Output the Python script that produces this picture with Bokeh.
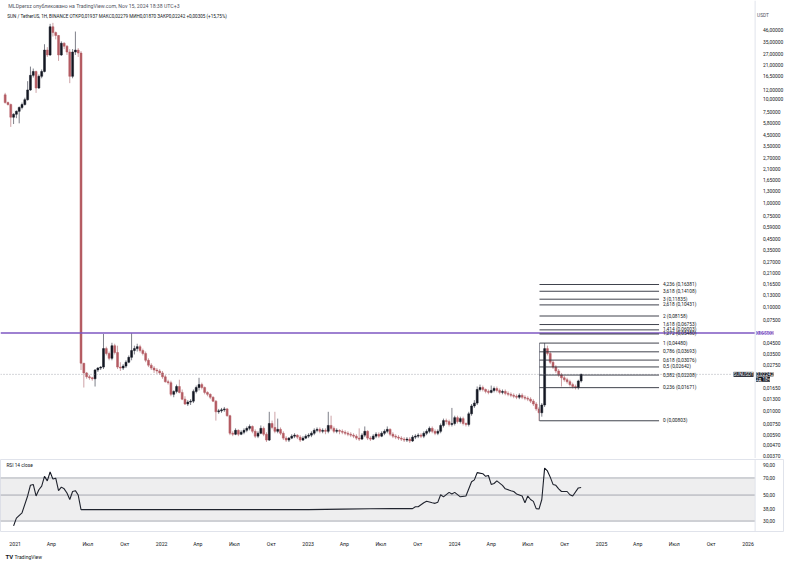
from datetime import datetime, timedelta
from bokeh.plotting import figure
from bokeh.models import (ColumnDataSource, Range1d, FixedTicker, CustomJSTickFormatter, Span, Label,
                          BoxAnnotation, LogAxis)
from bokeh.layouts import column
from bokeh.embed import file_html
from bokeh.resources import INLINE
from bokeh.core.properties import value

# ---------------- data (weekly candles, SUN/USDT) ----------------
first_week = datetime(2020, 12, 7)
first_open = 10.90
close = [
    9.18, 8.79, 6.64, 7.09, 7.56, 8.24, 8.79, 9.79, 12.14, 16.77,
    18.27, 12.67, 16.41, 18.27, 29.33, 26.34, 49.16, 43.21, 40.51, 26.34,
    34.10, 31.97, 28.10, 16.41, 28.10, 29.33, 27.50, 0.02871,
    0.02315, 0.02124, 0.02079, 0.02034, 0.02469, 0.02578, 0.02634, 0.03964, 0.0356, 0.03197,
    0.04229, 0.03637, 0.02634, 0.02578, 0.02691, 0.02933, 0.03266, 0.03797, 0.03964, 0.04139,
    0.03797, 0.0356, 0.03062, 0.0275, 0.02578, 0.02469, 0.02417, 0.02315, 0.02124, 0.01907,
    0.01866, 0.01442, 0.01538, 0.01713, 0.01505, 0.01295, 0.01163, 0.01214, 0.0124, 0.01538,
    0.01676, 0.01788,
    .01676, .01505, .01442, .01352, .0124, .00979, .0100, .01022, .01044, .00898,
    .00609, .00596, .0065, .00596, .00623, .0065, .00679, .00708, .00636, .00571,
    .00609, .00679, .00596, .00524, .00756, .00693, .00636, .00664, .00609, .00547,
    .00524, .00547, .00571, .00584, .00559, .00524, .00547, .00571, .00584, .00609,
    .0065, .00664, .00636, .0065, .00636, .00724, .00679, .00636, .0065, .00636,
    .00623, .00609, .00596, .00584, .00571, .00547, .00535, .00584, .00636, .00547,
    .00535, .00571, .00596, .00571, .00609, .00636, .00664, .00596, .00571, .00559,
    .00547, .00535, .00524, .00535, .00513, .00559, .00571, .00584, .00571, .00609,
    .00636, .00679, .00636, .00609, .00636, .00724, .00806, .00789, .0074, .00756,
    .0086, .00789, .00842, .00756, .0074, .00937, .01114, .01188, .01605, .01676,
    .01605, .01538, .01505, .01571, .0164, .01571, .01505, .01538, .01473, .01442,
    .01411, .01381, .01352, .01411, .01352, .01323, .01295, .0124, .01163, .01044,
    .00958, .01138, .03964, .0356, .02933, .02634, .02417, .02217, .02079, .01991,
    .01907, .01788, .01713, .01676, .01937, .02242,
]
high = [
    11.38, 9.38, 8.98, 7.24, 7.72, 8.42, 9.18, 10.22, 14.74, 20.35,
    19.49, 18.6, 17.1, 19.1, 33.38, 31.29, 52.44, 53.58, 44.2, 41.0,
    35.6, 34.9, 32.7, 29.97, 30.0, 44.2, 30.62, 28.7,
    0.02871, 0.02365, 0.0222, 0.02124, 0.02523, 0.02634, 0.02691, 0.05475, 0.04139, 0.03717,
    0.04511, 0.04415, 0.04229, 0.02933, 0.0281, 0.03062, 0.0341, 0.05594, 0.04229, 0.04415,
    0.04321, 0.03964, 0.03717, 0.03197, 0.02871, 0.02691, 0.02578, 0.02523, 0.02417, 0.02217,
    0.01991, 0.01949, 0.01571, 0.01788, 0.01991, 0.01605, 0.01381, 0.01267, 0.01295, 0.01605,
    0.0175, 0.02079,
    .01866, .01713, .01538, .01473, .01381, .01267, .01044, .01067, .0109, .01067,
    .00917, .00636, .00679, .00664, .0065, .00679, .00708, .0074, .00724, .00664,
    .00636, .00724, .00708, .00623, .00979, .00806, .00979, .00842, .00693, .00636,
    .00571, .00559, .00596, .00609, .00596, .00584, .00571, .00596, .00609, .00636,
    .00679, .00693, .00693, .00679, .00679, .00979, .00898, .00708, .00679, .00664,
    .00664, .0065, .00636, .00623, .00609, .00596, .00679, .00609, .00708, .0065,
    .00571, .00596, .00623, .00623, .00636, .00664, .00708, .00679, .00623, .00596,
    .00584, .00571, .00559, .00559, .00559, .00584, .00596, .00609, .00609, .00636,
    .00664, .00708, .00708, .00664, .00664, .00756, .00842, .00842, .00824, .01067,
    .00898, .00898, .00879, .00879, .00772, .00979, .01163, .01267, .01713, .01788,
    .0175, .0164, .01605, .0175, .01713, .01713, .0164, .01605, .01605, .01538,
    .01505, .01473, .01442, .01473, .01473, .01411, .01381, .01352, .01295, .01214,
    .0109, .01188, .0448, .04229, .03717, .03062, .0275, .02523, .02315, .0217,
    .02079, .01991, .01866, .01788, .01991, .02279,
]
low = [
    8.98, 8.60, 5.36, 5.71, 6.50, 5.80, 7.90, 8.60, 9.58, 11.9,
    16.0, 11.38, 12.4, 15.72, 17.9, 25.2, 25.8, 39.6, 37.17, 23.1,
    25.8, 29.97, 26.34, 14.11, 15.72, 26.34, 25.2, 0.0247,
    0.01676, 0.02034, 0.0199, 0.01949, 0.01713, 0.02365, 0.02469, 0.02523, 0.0341, 0.03062,
    0.03062, 0.03484, 0.02523, 0.02417, 0.02469, 0.02578, 0.02871, 0.03062, 0.03484, 0.03717,
    0.03637, 0.0341, 0.02933, 0.02634, 0.02469, 0.02315, 0.02266, 0.02217, 0.02034, 0.01866,
    0.01788, 0.01381, 0.01352, 0.01473, 0.01473, 0.01267, 0.01138, 0.01114, 0.01138, 0.01188,
    0.01473, 0.01571,
    .01605, .01442, .01381, .01295, .01214, .00806, .00937, .00958, .00979, .00879,
    .00584, .00571, .00584, .00571, .00584, .00596, .00623, .0065, .00609, .00547,
    .00547, .00596, .00571, .00502, .00513, .00664, .00609, .00609, .00584, .00524,
    .00502, .00502, .00535, .00547, .00535, .00502, .00513, .00535, .00547, .00559,
    .00584, .00623, .00609, .00609, .00596, .00609, .0065, .00609, .00609, .00596,
    .00596, .00584, .00571, .00559, .00547, .00524, .00513, .00524, .00559, .00524,
    .00513, .00524, .00547, .00547, .00559, .00584, .00609, .00571, .00547, .00535,
    .00524, .00513, .00502, .00502, .00491, .00502, .00535, .00547, .00547, .00547,
    .00584, .00609, .00609, .00584, .00584, .00609, .00693, .0074, .00708, .00708,
    .00724, .00756, .00756, .00724, .00708, .00708, .00898, .01067, .01138, .01538,
    .01538, .01473, .01442, .01473, .01505, .01505, .01442, .01442, .01411, .01381,
    .01352, .01323, .01295, .01295, .01295, .01267, .0124, .01188, .01114, .0100,
    .00802, .00879, .0109, .0341, .0281, .02523, .02315, .02124, .01713, .01907,
    .01827, .01713, .0164, .01605, .01605, .0187,
]

# RSI: week index -> value
rsi_idx = [3, 4, 6, 8, 9, 10, 11, 12, 13, 14, 15, 16, 17, 18, 19, 20, 21, 22, 23, 24,
           25, 26, 27, 108, 120, 130, 138, 145, 146, 147, 149, 150, 152, 153, 154, 155, 156, 158, 159, 160,
           162, 164, 166, 167, 168, 170, 171, 172, 173, 174, 175, 177, 178, 180, 181, 182, 184, 185, 186, 187,
           188, 189, 190, 191, 192, 193, 194, 195, 196, 197, 198, 200, 201, 202, 204, 205]
rsi_val = [27.3, 31.8, 35.3, 49.1, 60.6, 61.6, 49.1, 55.5, 59.5, 72.1, 66.0, 78.7, 68.4, 69.6, 54.5, 58.4, 56.5, 52.0, 45.8, 53.6,
           54.5, 50.0, 37.6, 37.6, 37.9, 38.2, 38.3, 38.3, 39.8, 39.8, 43.0, 44.2, 43.0, 42.5, 43.5, 50.3, 48.3, 52.7, 51.1, 52.7,
           48.3, 49.1, 64.9, 67.4, 77.6, 76.0, 72.2, 73.4, 61.6, 62.7, 66.0, 60.5, 56.5, 54.5, 53.6, 51.1, 49.1, 43.0, 49.1, 45.8,
           44.2, 38.3, 38.0, 45.8, 84.8, 80.3, 71.1, 61.6, 60.5, 56.5, 53.6, 53.6, 50.3, 49.1, 57.5, 58.0]

price_ticks = [46, 35, 27, 21, 16.5, 12, 10, 7.5, 5.8, 4.5, 3.5, 2.7, 2.1, 1.65, 1.3, 1.0, 0.75, 0.59,
               0.45, 0.35, 0.27, 0.21, 0.165, 0.13, 0.10, 0.075, 0.045, 0.035, 0.0275, 0.0165, 0.013,
               0.010, 0.0075, 0.0059, 0.0047, 0.0037]
rsi_ticks = [90, 70, 50, 38, 30]
fib_levels = ["0", "0,236", "0,382", "0,5", "0,618", "0,786", "1", "1,272", "1,414", "1,618", "2", "2,618", "3", "3,618", "4,236"]
fib_prices = [0.00803, 0.01671, 0.02208, 0.02642, 0.03076, 0.03693, 0.04480, 0.05480, 0.06003, 0.06753,
              0.08158, 0.10431, 0.11835, 0.14108, 0.16381]
purple_level = 0.05602
last_price = 0.02242
header1 = "MLDpersz опубликовано на TradingView.com, Nov 15, 2024 18:38 UTC+3"
header2 = "SUN / TetherUS, 1Н, BINANCE  ОТКР0,01937  МАКС0,02279  МИН0,01870  ЗАКР0,02242  +0,00305 (+15,75%)"

# ---------------- geometry helpers (reference-pixel -> data) ----------------
FONT = "Roboto"
W = 784
PR_H = 458
X_START = datetime(2021, 1, 1) - timedelta(days=36.6)
DPX = 1880.0 / 770.0          # days per reference pixel
epoch = datetime(1970, 1, 1)


def rx(px):
    return X_START + timedelta(days=px * DPX)


def ms(d):
    return (d - epoch).total_seconds() * 1000.0


def ry(py):
    return 10 ** ((208 - py) / 107.0)


def rr(py):
    return 50 * 10 ** ((512 - py) / 132.0)


X_END = rx(800)
SCALE_X = rx(770)
UP = "#131722"
DOWN = "#b45b62"
SEP = "#e0e3eb"
AX_FS = "4.9px"

dates = [first_week + timedelta(days=7 * i) for i in range(len(close))]
opens = [first_open] + close[:-1]
up = dict(x=[], top=[], bot=[], h=[], l=[])
dn = dict(x=[], top=[], bot=[], h=[], l=[])
for d, o, c, h, l in zip(dates, opens, close, high, low):
    t = up if c >= o else dn
    t["x"].append(d); t["top"].append(max(o, c)); t["bot"].append(min(o, c))
    t["h"].append(h); t["l"].append(l)


def style_axis(a, size=AX_FS):
    a.major_tick_line_color = None
    a.minor_tick_line_color = None
    a.axis_line_color = None
    a.major_label_text_font = FONT
    a.major_label_text_font_size = size
    a.major_label_text_color = "#131722"
    a.major_label_standoff = 2


# ---------------- price pane ----------------
p = figure(width=W, height=PR_H, x_axis_type="datetime", y_axis_type="log",
           x_range=Range1d(X_START, X_END), y_range=Range1d(ry(471), ry(0)),
           x_axis_location=None, y_axis_location=None,
           output_backend="svg", toolbar_location=None, min_border=0)
p.grid.visible = False
p.outline_line_color = None

pax = LogAxis(ticker=FixedTicker(ticks=price_ticks),
              formatter=CustomJSTickFormatter(code="return tick.toFixed(5).replace('.', ',');"),
              fixed_location=ms(SCALE_X))
style_axis(pax)
p.add_layout(pax, "right")
p.add_layout(Span(location=ms(SCALE_X), dimension="height", line_color=SEP, line_width=1))

BAR_W = 4.9 * 86400000
for src, col, wick in ((up, UP, "#5d606b"), (dn, DOWN, "#c08a8f")):
    s = ColumnDataSource(src)
    p.segment(x0="x", y0="h", x1="x", y1="l", source=s, line_color=wick, line_width=0.8)
    p.vbar(x="x", width=BAR_W, top="top", bottom="bot", source=s, fill_color=col, line_color=col, line_width=0.5)

# horizontal lines
p.segment(x0=[X_START], y0=[purple_level], x1=[SCALE_X], y1=[purple_level], line_color="#7e57c2", line_width=1.3)
p.segment(x0=[X_START], y0=[last_price], x1=[rx(747)], y1=[last_price], line_color="#9598a1",
          line_width=0.8, line_dash="1 2")

# fibonacci
fx0, fx1 = rx(550), rx(672)
p.segment(x0=[fx0], y0=[fib_prices[0]], x1=[fx0], y1=[fib_prices[6]], line_color="#787b86", line_width=0.8)
p.segment(x0=[fx0] * len(fib_prices), y0=fib_prices, x1=[fx1] * len(fib_prices), y1=fib_prices,
          line_color="#2a2e39", line_width=0.9)
fib_text = ["%s (%s)" % (lv, ("%.5f" % pr).replace(".", ",")) for lv, pr in zip(fib_levels, fib_prices)]
p.text(x=[rx(676)] * len(fib_prices), y=fib_prices, text=fib_text, text_font=value(FONT),
       text_font_size="4.8px", text_color="#131722", text_baseline="middle", text_align="left")

# header
p.text(x=[rx(8)], y=[ry(6)], text=[header1], text_font=value(FONT), text_font_size="5.2px",
       text_color="#50535e", text_baseline="middle")
p.text(x=[rx(7)], y=[ry(16)], text=[header2], text_font=value(FONT), text_font_size="4.6px",
       text_color="#131722", text_baseline="middle")
p.text(x=[rx(772)], y=[ry(15)], text=["USDT"], text_font=value(FONT), text_font_size="4.8px",
       text_color="#50535e", text_baseline="middle")


# price-scale badges
def badge(xd, yv, txt, bg, size=AX_FS):
    p.add_layout(Label(x=xd, y=yv, text=txt, text_font=FONT, text_font_size=size, text_color="white",
                       text_baseline="middle", background_fill_color=bg))


badge(rx(771), purple_level, "0,05602", "#7e57c2")
badge(rx(748), last_price, "SUNUSDT", "#131722", "4.5px")
badge(rx(771), last_price, "0,02242", "#131722")
badge(rx(771), ry(389.5), "2д 18ч", "#131722", "4.5px")

# ---------------- RSI pane ----------------
r = figure(width=W, height=91, x_axis_type="datetime", y_axis_type="log",
           x_range=p.x_range, y_range=Range1d(rr(553), rr(472)), y_axis_location=None,
           output_backend="svg", toolbar_location=None,
           min_border_left=0, min_border_right=0, min_border_top=1, min_border_bottom=11)
r.grid.visible = False
r.outline_line_color = SEP
r.add_layout(BoxAnnotation(bottom=30, top=70, right=ms(SCALE_X), fill_color="#787b86", fill_alpha=0.13,
                           line_color=None))
r.segment(x0=[X_START] * 3, y0=[70, 50, 30], x1=[SCALE_X] * 3, y1=[70, 50, 30], line_color="#a3a6af",
          line_width=0.9)
r.add_layout(Span(location=ms(SCALE_X), dimension="height", line_color=SEP, line_width=1))
rsi_dates = [first_week + timedelta(days=7 * i) for i in rsi_idx]
r.line(x=rsi_dates, y=rsi_val, line_color="#131722", line_width=1.1)
r.text(x=[rx(6)], y=[rr(479)], text=["RSI 14 close"], text_font=value(FONT), text_font_size="4.8px",
       text_color="#131722", text_baseline="middle")

rax = LogAxis(ticker=FixedTicker(ticks=rsi_ticks),
              formatter=CustomJSTickFormatter(code="return tick.toFixed(2).replace('.', ',');"),
              fixed_location=ms(SCALE_X))
style_axis(rax)
r.add_layout(rax, "right")

qticks = []
for yr in range(2021, 2027):
    for m in (1, 4, 7, 10):
        d = datetime(yr, m, 1)
        if d <= datetime(2026, 1, 1):
            qticks.append(ms(d))
xa = r.xaxis[0]
xa.ticker = FixedTicker(ticks=qticks)
xa.formatter = CustomJSTickFormatter(code="""
const d = new Date(tick); const m = d.getUTCMonth();
if (m == 0) { return String(d.getUTCFullYear()); }
return {3: 'Апр', 6: 'Июл', 9: 'Окт'}[m];
""")
style_axis(xa, "5.2px")
xa.major_label_standoff = 3

# ---------------- footer ----------------
f = figure(width=W, height=11, x_range=Range1d(0, W), y_range=Range1d(0, 11),
           x_axis_location=None, y_axis_location=None, output_backend="svg", toolbar_location=None,
           min_border=0)
f.grid.visible = False
f.outline_line_color = None
f.text(x=[5], y=[5], text=["TV"], text_font=value(FONT), text_font_size="6px", text_font_style="bold",
       text_color="#131722", text_baseline="middle")
f.text(x=[14], y=[5], text=["TradingView"], text_font=value(FONT), text_font_size="5px",
       text_color="#131722", text_baseline="middle")

layout = column(p, r, f, spacing=0)
open("out.html", "w").write(file_html(layout, INLINE))
